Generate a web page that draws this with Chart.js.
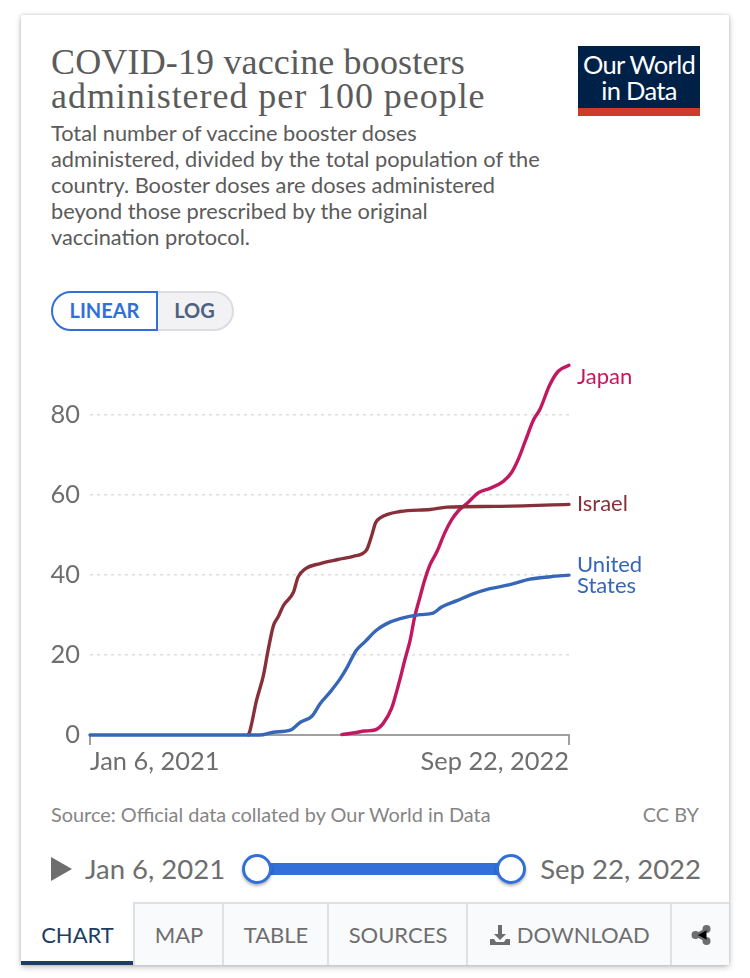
<!DOCTYPE html>
<html>
<head>
<meta charset="utf-8">
<script src="https://cdn.jsdelivr.net/npm/chart.js@4"></script>
<style>
  html, body { margin: 0; padding: 0; background: #fff; }
  body { width: 750px; height: 978px; position: relative; overflow: hidden; font-family: Lato, sans-serif; }
  .card { position: absolute; left: 21px; top: 15px; width: 708px; height: 950px; background: #fff; border-radius: 2px;
          box-shadow: 0 0 3px rgba(0,0,0,.15), 0 2px 6px rgba(0,0,0,.25); }
  .abs { position: absolute; white-space: nowrap; }
  h1 { margin: 0; font: 400 36px/34px "Liberation Serif", serif; color: #5b5b5b; left: 51px; top: 45px; letter-spacing: .16px; }
  h1 span { letter-spacing: .95px; }
  .sub { left: 51px; top: 120px; font-size: 21.8px; line-height: 26px; color: #5b5b5b; }
  .logo { left: 578px; top: 46px; width: 122px; height: 70px; background: #002147; color: #fff; text-align: center;
          font-size: 25.5px; line-height: 26px; letter-spacing: -0.7px; box-sizing: border-box; padding-top: 5px; border-bottom: 8px solid #ce3b2c; }
  .btn { top: 291px; height: 40px; box-sizing: border-box; font-weight: 700; font-size: 20px; line-height: 35px; text-align: center; }
  .linear { left: 51px; width: 107px; border: 2px solid #3270d9; border-radius: 20px 0 0 20px; color: #3270d9; z-index: 2; }
  .log { left: 157px; width: 77px; border: 2px solid #dcdde2; border-left: 0; border-radius: 0 20px 20px 0; background: #f2f2f4; color: #4e6180; }
  canvas { position: absolute; left: 30px; top: 340px; }
  .src { top: 803px; font-size: 19.9px; line-height: 22px; color: #858585; }
  .play { left: 51px; top: 857px; width: 0; height: 0; border-left: 21px solid #6e6e6e; border-top: 12px solid transparent; border-bottom: 12px solid transparent; }
  .date { top: 852px; font-size: 27.5px; line-height: 34px; color: #6e6e6e; }
  .track { left: 257px; top: 863px; width: 254px; height: 12px; background: #3270d9; }
  .knob { top: 854px; width: 30px; height: 30px; box-sizing: border-box; border-radius: 50%; background: #fff; border: 3px solid #3270d9; box-shadow: 0 2px 3px rgba(0,0,0,.3); }
  .tab { top: 902px; height: 63px; box-sizing: border-box; background: #f9fafc; border-top: 2px solid #e0e0e0; border-left: 2px solid #e0e0e0;
         font-size: 22px; line-height: 62px; text-align: center; color: #6e6e6e; }
  .tab.on { background: #fff; border: 0; border-bottom: 4px solid #1d3d63; color: #1d3d63; line-height: 66px; }
  .tab svg { vertical-align: -3px; }
</style>
</head>
<body>
<div class="card"></div>
<h1 class="abs">COVID-19 vaccine boosters<br><span>administered per 100 people</span></h1>
<div class="abs sub">Total number of vaccine booster doses<br>administered, divided by the total population of the<br>country. Booster doses are doses administered<br>beyond those prescribed by the original<br>vaccination protocol.</div>
<div class="abs logo">Our World<br>in Data</div>
<div class="abs btn linear">LINEAR</div>
<div class="abs btn log">LOG</div>

<canvas id="boostersChart" width="640" height="450"></canvas>

<div class="abs src" style="left:51px">Source: Official data collated by Our World in Data</div>
<div class="abs src" style="right:51px">CC BY</div>

<div class="abs play"></div>
<div class="abs date" style="left:85px">Jan 6, 2021</div>
<div class="abs track"></div>
<div class="abs knob" style="left:242px"></div>
<div class="abs knob" style="left:496px"></div>
<div class="abs date" style="right:49px">Sep 22, 2022</div>

<div class="abs tab on" style="left:21px;width:113px">CHART</div>
<div class="abs tab" style="left:133px;width:90px">MAP</div>
<div class="abs tab" style="left:222px;width:106px">TABLE</div>
<div class="abs tab" style="left:327px;width:140px">SOURCES</div>
<div class="abs tab" style="left:466px;width:205px"><svg width="22" height="22" viewBox="0 0 22 22"><path fill="#6e6e6e" d="M9 1h4v9h4l-6 6-6-6h4zM1 15h4l2 3h8l2-3h4v6H1z"/></svg> DOWNLOAD</div>
<div class="abs tab" style="left:670px;width:59px"><svg width="20" height="22" viewBox="0 0 20 22"><g fill="#6e6e6e"><circle cx="15.5" cy="5" r="4"/><circle cx="4.5" cy="11" r="4"/><circle cx="15.5" cy="17" r="4"/></g><path stroke="#6e6e6e" stroke-width="2.5" d="M15.5 5 4.5 11l11 6"/></svg></div>

<script>
// x values are days since Jan 6, 2021
const xStart = 0;
const xEnd = 624;
const startLabel = 'Jan 6, 2021';
const endLabel = 'Sep 22, 2022';
const yTicks = [0, 20, 40, 60, 80];

const usDays = [0, 221, 239, 261, 274, 289, 300, 313, 326, 334, 347, 358, 373, 386, 404, 430, 447, 458, 478, 499, 521, 547, 573, 600, 624];
const usValues = [0, 0, 0.7, 1.2, 3.2, 4.7, 7.9, 10.8, 14.1, 16.6, 21.2, 23.3, 26.2, 27.8, 29.1, 30.1, 30.5, 32, 33.6, 35.3, 36.6, 37.6, 39, 39.6, 40];

const israelDays = [206, 208, 217, 226, 232, 239, 245, 252, 265, 271, 280, 300, 323, 343, 360, 367, 372, 378, 404, 443, 465, 530, 624];
const israelValues = [0, 0.8, 8.7, 15, 21.2, 27.4, 29.5, 32.4, 35.7, 39.5, 41.5, 42.9, 43.9, 44.7, 46.2, 49.9, 53.1, 54.3, 55.9, 56.4, 57, 57.2, 57.7];

const japanDays = [328, 345, 358, 371, 382, 393, 397, 404, 410, 417, 423, 430, 436, 443, 452, 462, 471, 480, 491, 506, 521, 538, 549, 558, 567, 578, 586, 599, 610, 624];
const japanValues = [0.1, 0.55, 1, 1.25, 2.9, 6.7, 9.2, 14.1, 18.7, 23.7, 29.6, 34.6, 38.8, 42.6, 45.9, 50.5, 53.8, 56.1, 57.9, 60.6, 61.7, 63.4, 65.6, 69, 73.5, 78.9, 81.4, 87.6, 91, 92.5];

function toPoints(days, values) {
    return days.map((d, i) => ({ x: d, y: values[i] }));
}

// Nomes das séries no fim de cada linha
const endLabels = {
    id: 'endLabels',
    afterDraw(chart) {
        const { ctx, chartArea } = chart;
        ctx.save();
        ctx.font = '22px Lato';
        ctx.textBaseline = 'middle';
        chart.data.datasets.forEach((ds) => {
            const last = ds.data[ds.data.length - 1];
            const y = chart.scales.y.getPixelForValue(last.y) + ds.labelShift;
            ctx.fillStyle = ds.borderColor;
            ds.labelLines.forEach((line, k) => ctx.fillText(line, chartArea.right + 8, y + k * 21));
        });
        ctx.restore();
    }
};

new Chart(document.getElementById('boostersChart'), {
    type: 'line',
    data: {
        datasets: [
            { label: 'United States', labelLines: ['United', 'States'], labelShift: -10, clip: false, data: toPoints(usDays, usValues), borderColor: '#3666b8' },
            { label: 'Israel', labelLines: ['Israel'], labelShift: 0, clip: false, data: toPoints(israelDays, israelValues), borderColor: '#883039' },
            { label: 'Japan', labelLines: ['Japan'], labelShift: 12, clip: false, data: toPoints(japanDays, japanValues), borderColor: '#c2185f' }
        ]
    },
    plugins: [endLabels],
    options: {
        responsive: false,
        animation: false,
        layout: { padding: { top: 24, right: 101 } },
        elements: {
            point: { radius: 0 },
            line: { borderWidth: 3.4, cubicInterpolationMode: 'monotone', borderCapStyle: 'round', borderJoinStyle: 'round' }
        },
        plugins: { legend: { display: false }, tooltip: { enabled: false } },
        scales: {
            x: {
                type: 'linear',
                min: xStart,
                max: xEnd,
                afterBuildTicks(scale) { scale.ticks = [{ value: xStart }, { value: xEnd }]; },
                afterFit(scale) { scale.height = 55; },
                ticks: {
                    autoSkip: false,
                    maxRotation: 0,
                    align: 'inner',
                    padding: 2,
                    color: '#6e6e6e',
                    font: { family: 'Lato', size: 25.4 },
                    callback: (v) => (v === xStart ? startLabel : endLabel)
                },
                border: { color: '#a0a0a0', width: 2 },
                grid: { drawOnChartArea: false, color: '#a0a0a0', lineWidth: 2, tickLength: 10 }
            },
            y: {
                min: 0,
                max: 92.5,
                afterBuildTicks(scale) { scale.ticks = yTicks.map((v) => ({ value: v })); },
                afterFit(scale) { scale.width = 60; },
                ticks: {
                    color: '#6e6e6e',
                    font: { family: 'Lato', size: 25.4 },
                    padding: 10
                },
                border: { display: false, dash: [3, 4] },
                grid: { color: '#dddddd', lineWidth: 1.5, drawTicks: false, tickLength: 0 }
            }
        }
    }
});
</script>
</body>
</html>
